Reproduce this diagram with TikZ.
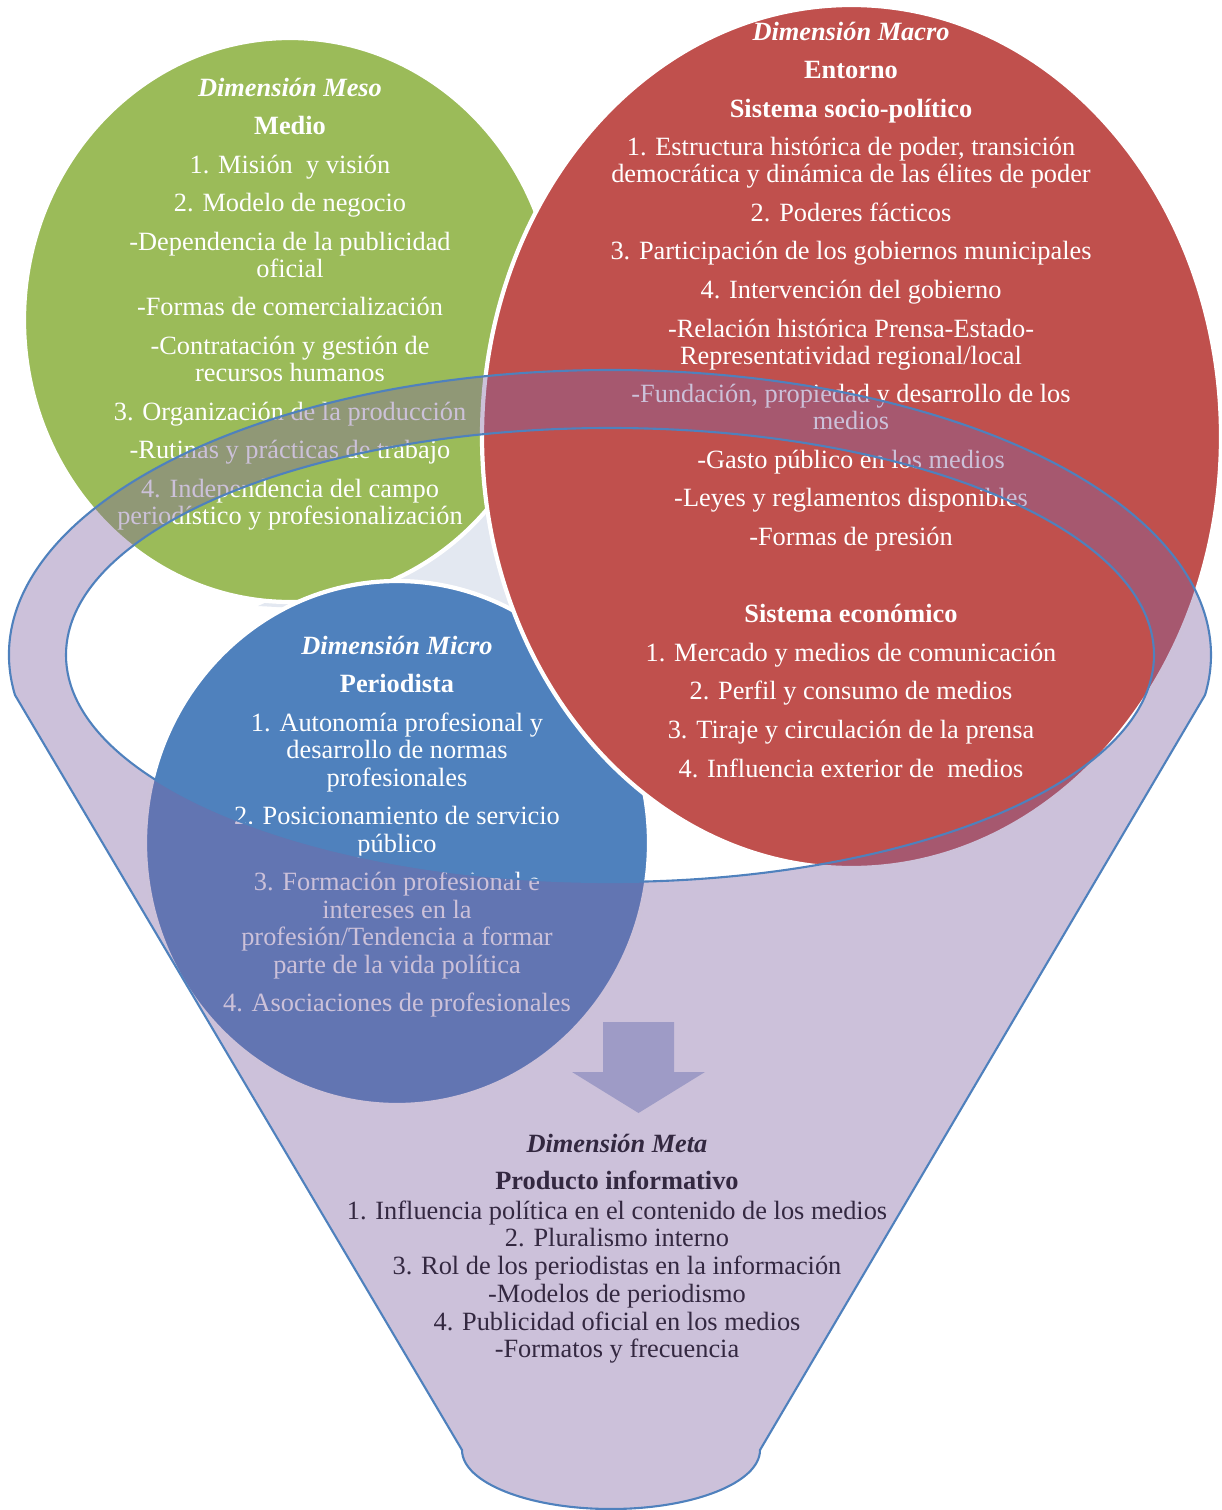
\documentclass[tikz,border=0pt]{standalone}
\usepackage{fontspec}
\setmainfont{Liberation Serif}

\definecolor{mesogreen}{HTML}{9BBB59}
\definecolor{macrored}{HTML}{C0504D}
\definecolor{microblue}{HTML}{4F81BD}
\definecolor{funnelpurple}{HTML}{8064A2}
\definecolor{hubgray}{HTML}{E3E8F1}
\definecolor{arrowblue}{HTML}{B2C1DE}

\newcommand{\itemgap}{3.3pt}

\begin{document}
\begin{tikzpicture}[
  dimension/.style={fill=#1,draw=white,line width=1.2pt},
  blocktext/.style={align=center,inner sep=0pt,anchor=north,text=white,
    font=\fontsize{7.5}{7.68}\selectfont},
  funnelline/.style={draw=microblue,line width=0.6pt}
]
  \useasboundingbox (0,0) rectangle (12.22,-15.10);

  % the three circles and the patch between them
  \fill[hubgray] (2.58,-6.06) -- (4.95,-5.00) -- (5.15,-6.20) -- cycle;
  \draw[dimension=mesogreen] (2.90,-3.20) ellipse [x radius=2.66,y radius=2.82];
  \draw[dimension=microblue] (3.97,-8.43) ellipse [x radius=2.52,y radius=2.62];
  \draw[dimension=macrored] (8.515,-4.365) ellipse [x radius=3.695,y radius=4.315];

  \node[blocktext] (meso) at (2.90,-0.77) {%
    {\bfseries\itshape Dimensión Meso}\\[\itemgap]
    {\bfseries Medio}\\[\itemgap]
    1. Misión\ \ y visión\\[\itemgap]
    2. Modelo de negocio\\[\itemgap]
    -Dependencia de la publicidad\\ oficial\\[\itemgap]
    -Formas de comercialización\\[\itemgap]
    -Contratación y gestión de\\ recursos humanos\\[\itemgap]
    3. Organización de la producción\\[\itemgap]
    -Rutinas y prácticas de trabajo\\[\itemgap]
    4. Independencia del campo\\ periodístico y profesionalización};

  \node[blocktext] (macro) at (8.51,-0.21) {%
    {\bfseries\itshape Dimensión Macro}\\[\itemgap]
    {\bfseries Entorno}\\[\itemgap]
    {\bfseries Sistema socio-político}\\[\itemgap]
    1. Estructura histórica de poder, transición\\ democrática y dinámica de las élites de poder\\[\itemgap]
    2. Poderes fácticos\\[\itemgap]
    3. Participación de los gobiernos municipales\\[\itemgap]
    4. Intervención del gobierno\\[\itemgap]
    -Relación histórica Prensa-Estado-\\ Representatividad regional/local\\[\itemgap]
    -Fundación, propiedad y desarrollo de los\\ medios\\[\itemgap]
    -Gasto público en los medios\\[\itemgap]
    -Leyes\ y reglamentos disponibles\\[\itemgap]
    -Formas de presión\\[\itemgap]
    \mbox{}\\[\itemgap]
    {\bfseries Sistema económico}\\[\itemgap]
    1. Mercado y medios de comunicación\\[\itemgap]
    2. Perfil y consumo de medios\\[\itemgap]
    3. Tiraje y circulación de la prensa\\[\itemgap]
    4. Influencia exterior de\ \ medios};

  \node[blocktext,font=\fontsize{7.5}{7.8}\selectfont] (micro) at (3.97,-6.35) {%
    {\bfseries\itshape Dimensión Micro}\\[3.2pt]
    {\bfseries Periodista}\\[3.2pt]
    1. Autonomía profesional y\\ desarrollo de normas\\ profesionales\\[3.2pt]
    2. Posicionamiento de servicio\\ público\\[3.2pt]
    3. Formación profesional e\\ intereses en la\\ profesión/Tendencia a formar\\ parte de la vida política\\[3.2pt]
    4. Asociaciones de profesionales};

  % funnel contents, seen through the funnel
  \fill[arrowblue] (6.03,-10.22) -- (6.74,-10.22) -- (6.74,-10.72) -- (7.05,-10.72)
    -- (6.385,-11.13) -- (5.72,-10.72) -- (6.03,-10.72) -- cycle;
  \node[blocktext,text=black,font=\fontsize{7.5}{7.9}\selectfont] (meta) at (6.17,-11.33) {%
    {\bfseries\itshape Dimensión Meta}\\[2.9pt]
    {\bfseries Producto informativo}\\[0.4pt]
    1. Influencia política en el contenido de los medios\\
    2. Pluralismo interno\\
    3. Rol de los periodistas en la información\\
    -Modelos de periodismo\\
    4. Publicidad oficial en los medios\\
    -Formatos y frecuencia};

  % funnel: rim and body with the opening cut out
  \coordinate (rim) at (6.10,-6.55);
  \path[funnelline,fill=funnelpurple,fill opacity=0.4,even odd rule]
    (rim) ++(188.07:6.01 and 2.85)
    arc[start angle=188.07,end angle=-8.07,x radius=6.01,y radius=2.85]
    -- (7.60,-14.50) arc[start angle=0,end angle=-180,x radius=1.49,y radius=0.59]
    -- cycle
    (rim) ellipse [x radius=5.44,y radius=2.27];
\end{tikzpicture}
\end{document}
